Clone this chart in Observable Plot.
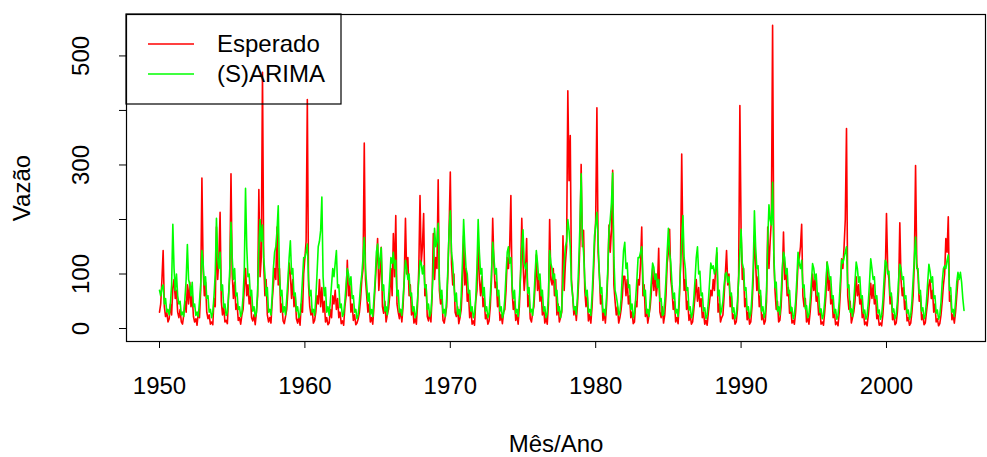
<!DOCTYPE html>
<html><head><meta charset="utf-8">
<script src="https://cdn.jsdelivr.net/npm/d3@7"></script>
<script src="https://cdn.jsdelivr.net/npm/@observablehq/plot@0.6"></script>
<style>
body{margin:0;background:#fff}
#chart{position:relative;width:987px;height:457px}
</style>
</head><body><div id="chart"></div>
<script>
// Monthly series starting January 1950
const startYear = 1950;
const esperado = [
/*1950*/ 30, 45, 90,143, 40, 22, 30, 12, 18, 45, 25, 75,
/*1951*/ 90, 55, 70, 30, 20, 35, 12,  8, 25, 50, 30, 80,
/*1952*/ 45, 85, 40, 60, 22, 12, 18,  6, 30, 20, 70,276,
/*1953*/110, 60, 85, 30, 18, 25,  8, 12,  7, 55, 40,186,
/*1954*/ 90,130,213, 50, 25, 40, 12, 15,  9, 60, 95,284,
/*1955*/100, 55, 85, 35, 45, 15, 20,  8, 25, 35, 75,110,
/*1956*/ 60, 80, 45, 60, 20, 14, 25,  7, 30, 60,255, 95,
/*1957*/130,470,120, 60, 90, 25, 12, 20, 10, 50, 80,110,
/*1958*/ 90,186, 80,110, 30, 45, 14,  9, 22, 35, 70,120,
/*1959*/100, 55, 90, 40, 60, 18, 10, 22,  6, 45, 30,100,
/*1960*/130,160,420, 80, 40, 25, 35, 10, 15, 30, 60, 45,
/*1961*/ 90, 40, 75, 30, 50, 12, 20,  7, 10, 35, 20, 60,
/*1962*/ 45, 70, 35, 55, 20, 30,  9, 14,  6, 40, 60,125,
/*1963*/ 60, 80, 30, 45, 15, 25,  7, 10, 18, 30, 55, 90,
/*1964*/110,340, 90, 60, 30, 45, 12, 20,  8, 40, 80,120,
/*1965*/165, 70,100,149, 40, 28, 50, 12, 25, 35, 60,110,
/*1966*/ 60,174, 95,207, 45, 30, 18, 35, 12, 40, 90,202,
/*1967*/100,130, 60, 80, 25, 40, 10, 18,  8, 45,110,244,
/*1968*/120,150,211, 60, 80, 22, 14, 30, 12, 60,174, 90,
/*1969*/130,110,273, 70, 45, 60, 15, 10, 25, 40,100,180,
/*1970*/287,120, 80,100, 30, 22, 40,  9, 20, 35, 80,170,
/*1971*/ 80,110, 50, 65, 20, 35,  8, 14,  6, 50, 70,165,
/*1972*/ 90, 60, 95, 40, 55, 18, 25,  8, 14, 40, 90,202,
/*1973*/120, 75, 85, 40, 60, 15, 25,  9, 30, 35, 70,130,
/*1974*/110,150,244, 70, 35, 50, 15, 25,  8, 40,100,202,
/*1975*/120, 70,100,165, 40, 60, 18, 12, 30, 40, 80,135,
/*1976*/ 70, 95, 50, 70, 25, 40, 10, 20,  8, 45,200, 90,
/*1977*/ 80,110, 60, 90, 25, 45, 12, 20, 30,170, 70,120,
/*1978*/150,436,271,354, 90, 60, 25, 40, 15, 45, 90,160,
/*1979*/301,150,180, 70, 40, 60, 14, 25, 10, 40, 90,150,
/*1980*/200,405,140,100, 45, 60, 15, 30, 10, 45,100,190,
/*1981*/140,180,290, 80, 50, 25, 40, 10, 20, 35, 60, 96,
/*1982*/ 96, 60, 90, 45, 60, 20, 30,  9, 12, 50, 40, 90,
/*1983*/ 80,120,186, 60, 80, 22, 35, 10, 25, 40, 70,110,
/*1984*/ 70,100, 60, 80,147, 30, 20, 40, 10, 25, 60,120,
/*1985*/140,182, 90, 70, 35, 50, 12, 20,  9, 50,120,320,
/*1986*/140, 70, 90, 35, 50, 15, 25,  8, 12, 35, 60, 90,
/*1987*/ 50, 75, 40, 55, 20, 30,  8, 15,  6, 30, 50, 70,
/*1988*/ 60, 90, 70,110,139, 30, 45, 12, 20, 25, 60,100,
/*1989*/143, 80,100, 40, 60, 18, 25,  8, 12, 35,100,409,
/*1990*/180, 90,110, 40, 55, 16, 30,  8, 12, 40, 90,170,
/*1991*/120, 70, 95, 40, 60, 16, 25,  8, 14, 50,186,110,
/*1992*/160,200,556,130, 70, 35, 50, 12, 15, 40, 90,177,
/*1993*/ 90,110, 60, 75, 28, 40, 10, 15,  8, 30, 70,120,
/*1994*/130,150,191, 60, 40, 55, 12, 20,  8, 30, 60,100,
/*1995*/ 70, 90, 50, 60, 25, 35,  8, 12,  6, 30, 60,122,
/*1996*/ 70, 95, 45, 60, 20, 30,  7, 12,  5, 30, 70,128,
/*1997*/110,150,200,367, 60, 35, 50, 10, 20, 30, 50, 95,
/*1998*/ 60, 80, 45, 55, 20, 30,  7, 12,  5, 25, 50, 83,
/*1999*/ 55, 80, 45, 60, 18, 25,  6, 10,  5, 25, 60,100,
/*2000*/211,110, 90, 45, 60, 16, 25,  7, 10, 30, 70,194,
/*2001*/ 90, 60, 75, 35, 50, 14, 20,  6, 10, 30, 60,120,
/*2002*/299,120,100, 50, 60, 16, 25,  7, 10, 30, 50, 80,
/*2003*/ 90, 55, 70, 30, 45, 12, 18,  5,  9, 25, 50, 80,
/*2004*/100,165,140,205, 50, 60, 16, 25, 10, 30, 60, 90
];
const sarima = [
/*1950*/ 70, 60, 75, 80, 45, 55, 30, 35, 25, 45, 80,191,
/*1951*/110, 70,100, 60, 45, 50, 25, 30, 22, 55, 90,154,
/*1952*/ 90, 80, 60, 85, 40, 45, 24, 30, 22, 50, 80,143,
/*1953*/120, 80, 95, 55, 60, 30, 35, 20, 30, 60,100,202,
/*1954*/130,110,140, 70, 80, 38, 45, 24, 30, 60,110,195,
/*1955*/130, 90,110, 60, 65, 35, 40, 22, 30, 60,110,257,
/*1956*/150, 95,100, 60, 70, 32, 40, 22, 30, 70,150,200,
/*1957*/160,190,130,100, 60, 75, 30, 35, 25, 60,110,140,
/*1958*/150,180,225,100, 60, 70, 30, 40, 25, 55, 90,130,
/*1959*/161,100,110, 60, 65, 32, 40, 20, 26, 50, 90,130,
/*1960*/130,140,155, 90, 60, 70, 30, 35, 24, 55,100,150,
/*1961*/160,180,241, 95, 60, 75, 30, 40, 24, 50, 80,110,
/*1962*/ 95,120,143, 75, 80, 38, 45, 22, 28, 50, 80,110,
/*1963*/100, 80, 95, 55, 60, 30, 35, 18, 25, 50, 80,100,
/*1964*/130,167,110, 80, 50, 65, 26, 35, 22, 55, 90,140,
/*1965*/155,110,130,148, 70, 80, 32, 40, 25, 55, 90,130,
/*1966*/120,140,110,125, 60, 70, 30, 35, 24, 55, 90,125,
/*1967*/110, 90,100, 60, 65, 32, 40, 20, 28, 55, 90,125,
/*1968*/120,100,115, 75, 80, 35, 45, 22, 30, 65,110,184,
/*1969*/150,160,193, 90, 55, 70, 28, 35, 22, 55,110,180,
/*1970*/216,140,120, 80, 50, 65, 26, 35, 22, 60,120,200,
/*1971*/150,110,100, 65, 70, 32, 40, 20, 28, 55,110,200,
/*1972*/140,100,110, 60, 75, 32, 40, 20, 28, 60,100,158,
/*1973*/130,100,110, 60, 70, 32, 40, 20, 28, 55,100,140,
/*1974*/150,120,130, 80, 55, 70, 28, 35, 22, 55,100,150,
/*1975*/181,120,110,120, 65, 75, 30, 35, 24, 55,100,143,
/*1976*/120, 90,100, 60, 70, 32, 40, 20, 28, 60,143,120,
/*1977*/110, 90,100, 60, 70, 32, 40, 20, 35, 90,120,150,
/*1978*/160,200,180,150, 80, 60, 34, 40, 26, 60,120,190,
/*1979*/284,170,140, 90, 60, 70, 30, 35, 24, 60,110,170,
/*1980*/190,213,160,100, 65, 75, 30, 35, 24, 60,110,180,
/*1981*/200,230,285,130, 70, 60, 45, 25, 30, 55,100,143,
/*1982*/158,110,120, 75, 80, 35, 45, 20, 28, 55, 90,130,
/*1983*/130,140,150, 90, 60, 70, 28, 35, 22, 55, 90,120,
/*1984*/112, 90,100, 75, 90, 50, 55, 24, 26, 50, 90,140,
/*1985*/184,140,120, 80, 55, 65, 28, 35, 22, 60,110,160,
/*1986*/207,130,110, 70, 75, 34, 40, 20, 28, 55, 90,130,
/*1987*/150,100,105, 60, 65, 32, 38, 18, 25, 50, 85,120,
/*1988*/110,115,100,110,148, 60, 70, 26, 35, 50, 80,100,
/*1989*/103, 85, 95, 60, 65, 30, 38, 18, 25, 50, 90,140,
/*1990*/182,120,110, 70, 75, 34, 40, 20, 28, 60,110,216,
/*1991*/150,110,115, 65, 70, 32, 40, 20, 30, 70,160,227,
/*1992*/200,190,268,140, 75, 85, 32, 40, 25, 60,110,140,
/*1993*/130,100,110, 65, 70, 32, 38, 18, 25, 50, 90,140,
/*1994*/120,110,125, 75, 80, 36, 42, 20, 26, 50, 85,119,
/*1995*/110, 90,100, 60, 65, 30, 36, 18, 25, 50, 85,122,
/*1996*/110, 90, 95, 55, 60, 28, 35, 17, 24, 50, 90,126,
/*1997*/120,130,140,150, 75, 80, 30, 36, 22, 50, 85,122,
/*1998*/110, 85, 95, 55, 60, 28, 34, 17, 24, 48, 85,128,
/*1999*/110, 90, 95, 55, 60, 28, 34, 17, 24, 50, 90,125,
/*2000*/120,100,105, 60, 65, 30, 36, 18, 25, 50, 90,118,
/*2001*/110, 90, 95, 55, 60, 28, 34, 17, 24, 50, 90,130,
/*2002*/168,110,110, 65, 70, 32, 38, 18, 25, 50, 85,118,
/*2003*/105, 85, 95, 55, 60, 28, 34, 17, 24, 48, 85,110,
/*2004*/115,110,125,135, 70, 75, 30, 35, 22, 50, 85,103,
/*2005*/ 90,103, 85, 55, 33
];
const xTicks = [1950, 1960, 1970, 1980, 1990, 2000];
const yTicks = [0, 100, 200, 300, 400, 500];
const yTickLabels = [0, 100, 300, 500];
const seriesNames = ["Esperado", "(S)ARIMA"];
const seriesColors = ["#FF0000", "#00FF00"];
const xLabel = "Mês/Ano";
const yLabel = "Vazão";

const toRows = (arr) => arr.map((v, i) => ({t: startYear + i / 12, v}));
const font = "'Liberation Sans', Arial, Helvetica, sans-serif";

const chart = Plot.plot({
  width: 987, height: 457,
  marginLeft: 126, marginRight: 2, marginTop: 14, marginBottom: 116,
  x: {domain: [1947.73, 2006.81]},
  y: {domain: [-23.8, 576]},
  style: {fontFamily: font, fontSize: "24px", background: "white", color: "black"},
  marks: [
    Plot.line(toRows(esperado), {x: "t", y: "v", stroke: seriesColors[0], strokeWidth: 1.6}),
    Plot.line(toRows(sarima), {x: "t", y: "v", stroke: seriesColors[1], strokeWidth: 1.6}),
    Plot.frame({stroke: "black", strokeWidth: 1.2}),
    Plot.axisX(xTicks, {tickSize: 7, tickPadding: 38, tickFormat: d => String(d), lineAnchor: "middle", fontSize: 24, label: null, stroke: "black"}),
    Plot.axisY(yTicks, {tickSize: 7, tickFormat: () => "", label: null, stroke: "black"}),
    Plot.axisY(yTickLabels, {tickSize: 0, tickPadding: 45, tickRotate: -90, textAnchor: "middle", lineAnchor: "middle", fontSize: 24, label: null}),
    Plot.text([xLabel], {frameAnchor: "bottom", dy: 103, textAnchor: "middle", lineAnchor: "middle", fontSize: 24}),
    Plot.text([yLabel], {frameAnchor: "left", dx: -104, dy: 10, rotate: -90, textAnchor: "middle", lineAnchor: "middle", fontSize: 24})
  ]
});
document.getElementById("chart").appendChild(chart);

// Legend (top-left, R style)
const svg = d3.select(chart);
const lg = svg.append("g").attr("font-family", font).attr("font-size", 24).attr("text-anchor", "start");
lg.append("rect").attr("x", 126).attr("y", 14).attr("width", 215).attr("height", 90)
  .attr("fill", "none").attr("stroke", "black").attr("stroke-width", 1.2);
seriesNames.forEach((name, i) => {
  const y = 44 + i * 30;
  lg.append("line").attr("x1", 148).attr("x2", 194).attr("y1", y).attr("y2", y)
    .attr("stroke", seriesColors[i]).attr("stroke-width", 1.6);
  lg.append("text").attr("x", 217).attr("y", y).attr("dy", "0.35em")
    .attr("text-anchor", "start").text(name);
});
</script>
</body></html>
